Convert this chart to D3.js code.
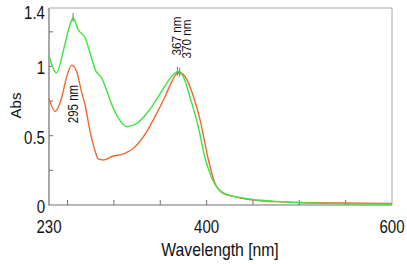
<!DOCTYPE html>
<html>
<head>
<meta charset="utf-8">
<script src="https://cdn.jsdelivr.net/npm/d3@7"></script>
<style>
    body { margin: 0; background: #fff; }
    #chart { width: 407px; height: 264px; }
    text { font-family: Arial, "Liberation Sans", sans-serif; fill: #111; }
</style>
</head>
<body>
<div id="chart"></div>
<script>
// spectra (wavelength in nm, absorbance)
const greenWavelengths = [230, 238, 247, 252.5, 256, 261.5, 269, 274, 280, 287, 292, 298, 305, 314, 325, 334, 341, 350, 357, 364, 369, 375, 382, 391, 398, 406, 415, 425, 436, 450, 475, 500, 550, 600];
const greenAbs = [1.08, 0.955, 1.155, 1.30, 1.35, 1.265, 1.205, 1.105, 0.975, 0.915, 0.83, 0.72, 0.625, 0.565, 0.59, 0.65, 0.71, 0.805, 0.88, 0.94, 0.962, 0.925, 0.78, 0.565, 0.35, 0.19, 0.1, 0.07, 0.054, 0.04, 0.026, 0.017, 0.009, 0.005];

const orangeWavelengths = [230, 236.5, 243.5, 249, 254.5, 260, 265, 269, 274, 280, 283, 288.5, 298, 312, 321, 335.5, 346, 355, 362.5, 368, 371, 377, 386, 393, 402, 409, 418, 429, 436, 450, 475, 500, 550, 600];
const orangeAbs = [0.77, 0.675, 0.77, 0.925, 1.01, 0.96, 0.82, 0.72, 0.54, 0.385, 0.333, 0.325, 0.35, 0.373, 0.41, 0.53, 0.66, 0.78, 0.89, 0.95, 0.955, 0.925, 0.78, 0.615, 0.325, 0.157, 0.084, 0.062, 0.052, 0.035, 0.024, 0.018, 0.014, 0.012];

const xTickValues = [250, 300, 350, 400, 450, 500, 550];
const xLabelValues = [230, 400, 600];
const yTickValues = [0.25, 0.5, 0.75, 1, 1.25];
const yLabelValues = [0, 0.5, 1, 1.4];

// peak marks and their rotated labels
const peakMarks = [[256, 1.35], [368.5, 0.962], [371, 0.955]];
const peakLabels = ["295 nm", "367 nm", "370 nm"];

class SpectrumVis {
    constructor(containerId) {
        this.containerId = containerId;
        this.initVis();
    }

    initVis() {
        let vis = this;
        vis.left = 49; vis.right = 392; vis.top = 8; vis.bottom = 205;

        vis.svg = d3.select(`#${vis.containerId}`)
            .append("svg")
            .attr("width", 407)
            .attr("height", 264);

        vis.x = d3.scaleLinear().domain([230, 600]).range([vis.left, vis.right]);
        vis.y = d3.scaleLinear().domain([0, 1.422]).range([vis.bottom, vis.top]);

        vis.drawAxes();
        vis.drawLines();
        vis.drawLabels();
    }

    drawAxes() {
        let vis = this;
        // light top/right frame
        vis.svg.append("path")
            .attr("d", `M${vis.left},${vis.top}H${vis.right}V${vis.bottom}`)
            .attr("fill", "none").attr("stroke", "#a8a8a8").attr("stroke-width", 1);
        vis.svg.append("path")
            .attr("d", `M${vis.left},${vis.top}V${vis.bottom}H${vis.right}`)
            .attr("fill", "none").attr("stroke", "#707070").attr("stroke-width", 1.2);

        vis.svg.selectAll(".xtick").data(xTickValues).join("line")
            .attr("class", "xtick")
            .attr("x1", d => vis.x(d)).attr("x2", d => vis.x(d))
            .attr("y1", vis.bottom).attr("y2", vis.bottom - 5)
            .attr("stroke", "#707070");
        vis.svg.selectAll(".ytick").data(yTickValues).join("line")
            .attr("class", "ytick")
            .attr("x1", vis.left).attr("x2", vis.left + 4)
            .attr("y1", d => vis.y(d)).attr("y2", d => vis.y(d))
            .attr("stroke", "#707070");

        vis.svg.selectAll(".xlab").data(xLabelValues).join("text")
            .attr("class", "xlab")
            .attr("transform", d => `translate(${vis.x(d)},233) scale(0.86,1)`)
            .attr("text-anchor", "middle")
            .style("font-size", "17.5px")
            .text(d => d);
        vis.svg.selectAll(".ylab").data(yLabelValues).join("text")
            .attr("class", "ylab")
            .attr("transform", d => `translate(45,${vis.y(d) + 8}) scale(0.86,1)`)
            .attr("text-anchor", "end")
            .style("font-size", "17.5px")
            .text(d => d);

        vis.svg.append("text")
            .attr("transform", "translate(220,256) scale(0.9,1)")
            .attr("text-anchor", "middle")
            .style("font-size", "17.5px")
            .text("Wavelength [nm]");
        vis.svg.append("text")
            .attr("transform", "translate(20.5,105.5) rotate(-90)")
            .attr("text-anchor", "middle")
            .style("font-size", "15px")
            .text("Abs");
    }

    drawLines() {
        let vis = this;
        const line = d3.line()
            .x(d => vis.x(d[0]))
            .y(d => vis.y(d[1]))
            .curve(d3.curveMonotoneX);

        const orange = orangeWavelengths.map((w, i) => [w, orangeAbs[i]]);
        const green = greenWavelengths.map((w, i) => [w, greenAbs[i]]);

        vis.svg.append("path").datum(orange)
            .attr("d", line)
            .attr("fill", "none").attr("stroke", "#ee6a2c").attr("stroke-width", 1.4);
        vis.svg.append("path").datum(green)
            .attr("d", line)
            .attr("fill", "none").attr("stroke", "#3ee43e").attr("stroke-width", 1.4);

        vis.svg.selectAll(".peak").data(peakMarks).join("line")
            .attr("class", "peak")
            .attr("x1", d => vis.x(d[0])).attr("x2", d => vis.x(d[0]))
            .attr("y1", d => vis.y(d[1]) - 5).attr("y2", d => vis.y(d[1]) + 4)
            .attr("stroke", "#777").attr("stroke-width", 1);
    }

    drawLabels() {
        let vis = this;
        const spots = [[77.5, 104, 14, 0.82], [180.5, 36, 13, 0.9], [191, 39, 13, 0.9]];
        vis.svg.selectAll(".peaklab").data(peakLabels).join("text")
            .attr("class", "peaklab")
            .attr("transform", (d, i) => `translate(${spots[i][0]},${spots[i][1]}) rotate(-90) scale(${spots[i][3]},1)`)
            .attr("text-anchor", "middle")
            .style("font-size", (d, i) => spots[i][2] + "px")
            .text(d => d);
    }
}

new SpectrumVis("chart");
</script>
</body>
</html>
